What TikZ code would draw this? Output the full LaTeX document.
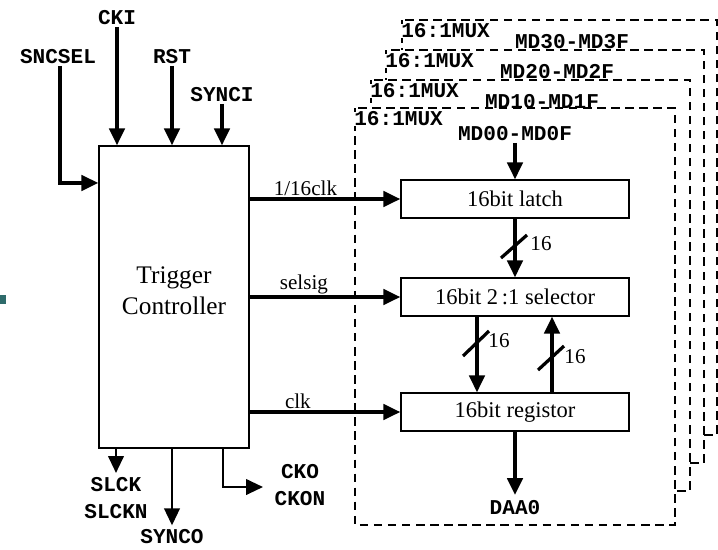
\documentclass[tikz,border=0pt]{standalone}
\usepackage{fontspec}
\setmainfont{Liberation Serif}
\newfontfamily\pinfont{Liberation Mono}
\usetikzlibrary{arrows.meta,positioning}
\definecolor{slideteal}{RGB}{46,107,107}

\begin{document}
\begin{tikzpicture}[x=0.025cm,y=-0.025cm,>={Triangle[length=12pt,width=11pt]},
  sig/.style={line width=2.3pt},
  thin sig/.style={line width=1.6pt},
  blk/.style={draw,line width=1pt,fill=white,minimum width=5.7cm,minimum height=0.95cm,font=\fontsize{16}{18}\selectfont},
  pin/.style={font=\pinfont\bfseries\fontsize{15}{19}\selectfont,inner sep=1pt,align=center},
  lbl/.style={font=\fontsize{15}{17}\selectfont,inner sep=1pt},
  muxframe/.style={line width=1pt,fill=white,dash pattern=on 6pt off 4pt}]
\useasboundingbox (0,0) rectangle (718,549);
\fill[slideteal] (0,295) rectangle (6,304);
% 16:1 mux frames, back to front
\foreach \k/\l/\t/\r/\b/\mx/\my in {3/402/20/717/435/572/42,2/386/50/704/463/557/72,1/371/80/690/491/542/102,0/355/108/675/525/515/134}{
  \draw[muxframe] (\l,\t) rectangle (\r,\b);
  \node[pin,fill=white,anchor=west,inner sep=0pt] (mux\k) at (\l-1,\t+11) {16:1MUX};
  \node[pin] (md\k) at (\mx,\my) {MD\k0-MD\k F};
}
% trigger controller
\node[draw,line width=1pt,minimum width=3.75cm,minimum height=7.55cm,align=center,font=\fontsize{18}{22}\selectfont] (tc) at (174,297) {Trigger\\Controller\\[-13pt]};
% inputs
\node[pin] (cki) at (117,18) {CKI};
\node[pin] (rst) at (172,57) {RST};
\node[pin] (synci) at (222,95) {SYNCI};
\node[pin] (sncsel) at (58,57) {SNCSEL};
\draw[sig,->] (cki) -- (cki |- tc.north);
\draw[sig,->] (rst) -- (rst |- tc.north);
\draw[sig,->] (synci) -- (synci |- tc.north);
\draw[sig,->] ([xshift=0.05cm]sncsel.south) |- ([yshift=2.85cm]tc.west);
% outputs
\node[pin] (slck) at (116,498) {SLCK\\SLCKN};
\node[pin] (synco) at (172,537) {SYNCO};
\node[pin] (cko) at (300,485) {CKO\\CKON};
\coordinate (ckbend) at (223,487);
\coordinate (ckotip) at (263,487);
\draw[thin sig,->] (slck |- tc.south) -- ([yshift=2pt]slck.north);
\draw[thin sig,->] (synco |- tc.south) -- ([yshift=2pt]synco.north);
\draw[thin sig,->] (tc.south -| ckbend) -- (ckbend) -- (ckotip);
% datapath
\node[blk] (latch) at (515,199) {16bit latch};
\node[blk] (sel) at (515,297) {16bit 2\,:1 selector};
\node[blk] (reg) at (515,412) {16bit registor};
\node[pin] (daa) at (515,508) {DAA0};
\draw[sig,->] (tc.east |- latch) -- node[lbl,above,pos=0.37] {1/16clk} (latch);
\draw[sig,->] (tc.east |- sel) -- node[lbl,above,pos=0.36] {selsig} (sel);
\draw[sig,->] (tc.east |- reg) -- node[lbl,above,pos=0.32] {clk} (reg);
\draw[sig,->] (md0) -- (latch);
\draw[sig,->] (latch) -- (sel);
\draw[sig,->] ([xshift=-0.95cm]sel.south) -- ([xshift=-0.95cm]reg.north);
\draw[sig,->] ([xshift=0.925cm]reg.north) -- ([xshift=0.925cm]sel.south);
\draw[sig,->] (reg) -- ([yshift=3pt]daa.north);
% bus widths
\draw[sig] (501,258) -- (527,235);
\draw[sig] (463,356) -- (489,331);
\draw[sig] (538,370) -- (564,346);
\node[lbl] (w1) at (541,244) {16};
\node[lbl] (w2) at (499,341) {16};
\node[lbl] (w3) at (575,357) {16};
\end{tikzpicture}
\end{document}
